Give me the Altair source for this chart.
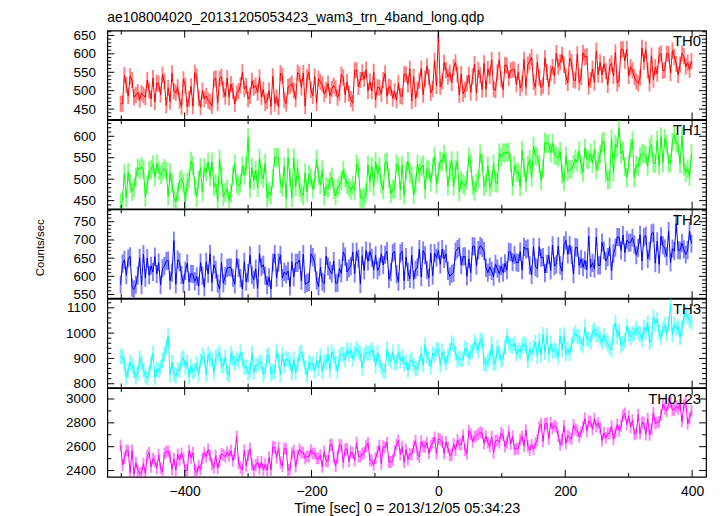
import altair as alt
import pandas as pd

# ---------------- data ----------------
T_START = -501          # first bin time [s]
T_STEP = 3              # bin width [s]

TH0 = [
464, 465, 542, 515, 485, 539, 529, 482, 488, 496, 476, 493, 488, 482, 529, 500, 478, 534, 469, 521,
519, 489, 543, 525, 460, 508, 470, 547, 499, 494, 509, 473, 457, 531, 514, 456, 478, 512, 458, 549,
538, 480, 455, 500, 477, 486, 473, 469, 458, 531, 534, 466, 532, 538, 503, 484, 534, 482, 518, 499,
464, 493, 499, 515, 550, 505, 513, 477, 486, 527, 508, 514, 495, 536, 483, 503, 466, 472, 500, 457,
539, 465, 482, 456, 548, 540, 476, 465, 510, 514, 519, 501, 477, 549, 544, 509, 548, 458, 536, 551,
502, 486, 539, 467, 533, 524, 517, 491, 502, 519, 486, 505, 514, 506, 481, 495, 544, 536, 489, 523,
492, 477, 466, 555, 556, 510, 529, 550, 531, 557, 499, 525, 499, 551, 475, 510, 508, 491, 529, 547,
485, 511, 508, 479, 498, 474, 521, 486, 484, 545, 544, 517, 559, 472, 538, 478, 503, 527, 560, 489,
533, 566, 537, 494, 505, 581, 513, 655, 510, 525, 576, 556, 538, 549, 521, 563, 577, 544, 488, 545,
491, 503, 520, 543, 495, 538, 572, 494, 556, 542, 503, 574, 504, 559, 541, 584, 505, 501, 550, 584,
531, 503, 570, 568, 534, 555, 557, 557, 517, 551, 507, 519, 584, 509, 571, 579, 591, 524, 509, 577,
534, 508, 514, 588, 551, 510, 547, 565, 540, 602, 565, 577, 598, 570, 538, 521, 588, 578, 530, 527,
599, 522, 537, 603, 591, 593, 511, 529, 559, 522, 608, 543, 577, 543, 572, 554, 516, 566, 574, 540,
604, 520, 531, 612, 612, 581, 613, 540, 565, 555, 537, 525, 520, 535, 616, 578, 612, 555, 520, 595,
530, 564, 546, 596, 601, 554, 556, 601, 600, 548, 609, 592, 573, 543, 571, 601, 594, 565, 576, 557,
580]

TH1 = [
445, 450, 513, 457, 516, 490, 471, 480, 505, 527, 522, 530, 522, 458, 487, 520, 522, 534, 505, 536,
520, 510, 518, 525, 519, 461, 515, 491, 456, 448, 469, 496, 500, 490, 448, 493, 501, 542, 532, 484,
458, 498, 527, 470, 527, 516, 540, 506, 540, 483, 490, 449, 547, 504, 459, 469, 477, 450, 467, 508,
536, 490, 484, 491, 531, 509, 531, 596, 479, 527, 497, 521, 480, 549, 510, 501, 537, 457, 471, 463,
501, 551, 551, 550, 489, 481, 530, 456, 551, 503, 457, 549, 483, 525, 480, 468, 461, 515, 470, 511,
503, 477, 498, 547, 508, 487, 522, 461, 483, 479, 495, 505, 476, 461, 478, 486, 497, 521, 503, 488,
481, 474, 486, 473, 536, 526, 456, 455, 458, 468, 533, 493, 530, 483, 541, 513, 530, 488, 475, 538,
541, 502, 466, 477, 477, 536, 529, 474, 533, 463, 519, 542, 513, 509, 464, 488, 535, 514, 528, 533,
476, 524, 521, 493, 528, 553, 488, 518, 543, 540, 558, 540, 484, 522, 543, 483, 522, 543, 470, 497,
489, 484, 498, 552, 538, 485, 472, 491, 499, 559, 538, 483, 491, 531, 481, 493, 536, 492, 491, 561,
551, 562, 561, 562, 564, 539, 484, 532, 515, 516, 482, 567, 527, 493, 532, 546, 504, 577, 555, 552,
535, 497, 524, 587, 583, 583, 562, 584, 557, 555, 550, 565, 512, 495, 554, 518, 523, 523, 535, 547,
540, 566, 533, 516, 573, 547, 546, 561, 537, 569, 522, 541, 558, 586, 588, 515, 498, 500, 594, 516,
581, 574, 620, 559, 566, 529, 504, 535, 572, 590, 503, 534, 529, 552, 560, 559, 556, 530, 573, 581,
537, 537, 591, 532, 599, 539, 595, 581, 537, 538, 587, 603, 585, 580, 536, 600, 530, 515, 524, 506,
560]

TH2 = [
577, 635, 645, 603, 649, 655, 569, 564, 577, 602, 651, 576, 661, 596, 650, 603, 629, 612, 654, 606,
638, 576, 622, 628, 642, 644, 588, 610, 698, 578, 646, 639, 603, 580, 615, 636, 585, 607, 606, 586,
600, 573, 638, 602, 570, 640, 607, 662, 583, 632, 618, 580, 565, 639, 581, 601, 623, 625, 624, 596,
578, 649, 623, 595, 565, 640, 585, 609, 658, 603, 591, 621, 567, 662, 625, 632, 602, 576, 597, 565,
638, 661, 596, 638, 659, 595, 612, 605, 615, 572, 640, 598, 637, 637, 645, 588, 661, 578, 582, 584,
662, 653, 638, 589, 572, 625, 585, 580, 656, 627, 616, 607, 642, 581, 582, 622, 608, 667, 654, 612,
622, 628, 667, 608, 668, 649, 579, 657, 616, 671, 641, 668, 651, 618, 658, 616, 626, 662, 631, 659,
669, 592, 612, 664, 668, 606, 585, 663, 669, 588, 653, 612, 593, 658, 591, 618, 625, 675, 598, 671,
658, 617, 596, 664, 602, 664, 651, 671, 633, 675, 648, 662, 615, 600, 607, 610, 668, 675, 680, 631,
654, 655, 600, 648, 610, 683, 682, 629, 672, 684, 678, 669, 623, 610, 626, 615, 599, 634, 621, 607,
628, 610, 636, 617, 668, 666, 639, 659, 638, 637, 668, 617, 681, 674, 677, 630, 604, 681, 626, 621,
681, 651, 653, 609, 634, 658, 616, 685, 628, 633, 683, 630, 614, 686, 699, 660, 686, 658, 606, 680,
679, 629, 648, 625, 644, 618, 710, 623, 637, 621, 708, 630, 630, 693, 671, 642, 653, 681, 615, 663,
679, 708, 708, 671, 713, 665, 700, 692, 693, 706, 687, 658, 678, 714, 642, 707, 712, 648, 669, 718,
720, 636, 696, 633, 710, 685, 677, 655, 724, 638, 676, 669, 745, 672, 671, 691, 674, 660, 672, 724,
690]

TH3 = [
906, 909, 878, 824, 855, 884, 870, 849, 826, 841, 900, 884, 854, 831, 822, 843, 882, 921, 824, 857,
852, 865, 891, 916, 948, 988, 836, 885, 836, 831, 856, 853, 895, 903, 865, 886, 827, 868, 847, 853,
880, 837, 889, 911, 897, 836, 916, 898, 898, 844, 904, 911, 924, 870, 871, 906, 842, 833, 920, 899,
880, 898, 889, 925, 896, 865, 866, 842, 855, 920, 845, 873, 872, 885, 886, 836, 850, 909, 912, 839,
847, 848, 928, 891, 836, 917, 869, 899, 895, 882, 842, 897, 845, 876, 918, 925, 900, 865, 833, 884,
879, 880, 851, 894, 861, 911, 847, 888, 886, 918, 854, 926, 910, 880, 847, 907, 918, 916, 894, 934,
916, 932, 898, 921, 939, 925, 918, 862, 911, 924, 918, 924, 935, 918, 869, 923, 891, 866, 852, 848,
938, 900, 888, 925, 884, 882, 926, 891, 907, 877, 885, 851, 888, 896, 873, 859, 862, 879, 920, 874,
954, 910, 898, 867, 920, 912, 935, 934, 874, 926, 903, 883, 911, 932, 961, 955, 920, 893, 903, 894,
897, 941, 934, 902, 925, 930, 967, 950, 932, 974, 970, 880, 876, 890, 902, 957, 881, 880, 946, 922,
891, 899, 945, 989, 961, 950, 949, 960, 917, 935, 924, 949, 958, 952, 891, 937, 918, 941, 964, 908,
969, 913, 994, 924, 991, 914, 960, 928, 934, 928, 909, 989, 935, 992, 919, 937, 919, 955, 988, 1002,
987, 985, 961, 952, 1024, 977, 976, 965, 1004, 1014, 993, 997, 978, 964, 990, 971, 958, 943, 933, 1007,
1041, 985, 1007, 951, 960, 970, 1028, 997, 984, 995, 999, 1019, 1002, 995, 973, 1022, 1004, 1041, 962, 974,
1063, 1035, 1055, 1002, 983, 1017, 1033, 998, 1037, 1112, 993, 1034, 1017, 1026, 983, 1020, 1064, 1078, 1064, 1051,
1040]

TH0123 = [
2610, 2446, 2506, 2568, 2564, 2382, 2568, 2370, 2466, 2400, 2376, 2380, 2458, 2374, 2524, 2550, 2432, 2498, 2478, 2418,
2531, 2421, 2387, 2543, 2559, 2561, 2513, 2411, 2499, 2405, 2535, 2489, 2543, 2501, 2397, 2405, 2567, 2507, 2549, 2401,
2382, 2440, 2410, 2502, 2550, 2516, 2576, 2524, 2454, 2426, 2526, 2420, 2480, 2540, 2530, 2516, 2554, 2524, 2566, 2484,
2543, 2684, 2463, 2425, 2405, 2569, 2441, 2527, 2583, 2451, 2405, 2445, 2471, 2415, 2471, 2407, 2451, 2405, 2511, 2407,
2599, 2593, 2507, 2591, 2465, 2437, 2585, 2581, 2405, 2411, 2545, 2567, 2433, 2527, 2577, 2555, 2549, 2501, 2519, 2517,
2570, 2544, 2542, 2502, 2502, 2528, 2432, 2560, 2480, 2478, 2612, 2618, 2510, 2438, 2518, 2616, 2610, 2468, 2576, 2582,
2477, 2555, 2547, 2485, 2633, 2519, 2517, 2541, 2549, 2605, 2631, 2491, 2483, 2449, 2505, 2555, 2609, 2457, 2603, 2593,
2634, 2472, 2472, 2486, 2562, 2618, 2654, 2534, 2600, 2472, 2576, 2494, 2538, 2534, 2602, 2650, 2536, 2514, 2646, 2602,
2600, 2634, 2544, 2608, 2632, 2678, 2542, 2666, 2658, 2642, 2544, 2640, 2594, 2526, 2532, 2620, 2572, 2656, 2622, 2616,
2695, 2573, 2543, 2733, 2707, 2641, 2681, 2693, 2705, 2721, 2713, 2627, 2687, 2635, 2603, 2685, 2547, 2649, 2655, 2635,
2715, 2697, 2601, 2633, 2727, 2623, 2687, 2577, 2585, 2583, 2659, 2685, 2607, 2739, 2603, 2571, 2615, 2581, 2627, 2655,
2764, 2790, 2646, 2790, 2796, 2664, 2798, 2754, 2778, 2764, 2690, 2616, 2656, 2774, 2628, 2692, 2676, 2664, 2782, 2746,
2734, 2684, 2722, 2766, 2836, 2730, 2814, 2810, 2746, 2834, 2772, 2798, 2756, 2652, 2716, 2676, 2710, 2712, 2772, 2662,
2716, 2786, 2734, 2774, 2860, 2878, 2786, 2856, 2762, 2822, 2704, 2716, 2866, 2710, 2804, 2798, 2702, 2834, 2700, 2746,
2884, 2794, 2802, 2808, 2864, 2956, 2918, 2898, 2960, 2970, 2906, 2910, 2938, 2920, 2954, 2812, 2948, 2976, 2794, 2836,
2900]

SERIES = [TH0, TH1, TH2, TH3, TH0123]
NAMES = ["TH0", "TH1", "TH2", "TH3", "TH0123"]
COLORS = ["#ff0000", "#00ff00", "#0000ff", "#00ffff", "#ff00ff"]
ERRS = [22, 22, 25, 30, 50]                      # 1-sigma error per bin
Y_DOMAINS = [[422, 663], [431, 638], [540, 784], [785, 1136], [2347, 3091]]
Y_LABELS = [[450, 500, 550, 600, 650], [450, 500, 550, 600],
            [550, 600, 650, 700, 750], [800, 900, 1000, 1100],
            [2400, 2600, 2800, 3000]]
Y_MINOR_STEP = [10, 10, 10, 20, 100]
X_DOMAIN = [-522, 422]
X_LABELS = [-400, -200, 0, 200, 400]
X_MINOR = [-500, -300, -100, 100, 300]

TITLE = "ae108004020_20131205053423_wam3_trn_4band_long.qdp"
X_TITLE = "Time [sec] 0 = 2013/12/05 05:34:23"
Y_TITLE = "Counts/sec"

# ---------------- layout ----------------
FONT = "Liberation Sans"
W = 603
H = 89.4
MAJ = 7
MIN = 4

times = [T_START + T_STEP * i for i in range(len(TH0))]
xs = alt.Scale(domain=X_DOMAIN, nice=False, zero=False)


def panel(i):
    ys = alt.Scale(domain=Y_DOMAINS[i], nice=False, zero=False)
    df = pd.DataFrame({"t": times, "rate": SERIES[i]})
    df["lo"] = df["rate"] - ERRS[i]
    df["hi"] = df["rate"] + ERRS[i]
    color = COLORS[i]
    last = i == len(SERIES) - 1

    if last:
        xaxis = alt.Axis(values=X_LABELS, ticks=False, domain=False, grid=False,
                         labelFontSize=14, labelPadding=8, labelFlush=False,
                         format="d", title=X_TITLE, titleFontSize=14.5,
                         titlePadding=3, titleFontWeight="normal")
    else:
        xaxis = alt.Axis(values=X_LABELS, ticks=False, domain=False, grid=False,
                         labels=False, title=None)

    yaxis = alt.Axis(values=Y_LABELS[i], ticks=False, domain=False, grid=False,
                     labelFontSize=13.5, labelPadding=12, labelFlush=False, format="d",
                     title=Y_TITLE if i == 2 else None, titleFontSize=11.5,
                     titlePadding=28, titleY=H / 2 - 6.5, titleFontWeight="normal")

    X = lambda f: alt.X(f, scale=xs, axis=xaxis)
    Y = lambda f: alt.Y(f, scale=ys, axis=yaxis)

    err = alt.Chart(df).mark_rule(color=color, opacity=0.5, strokeWidth=1.9, clip=True).encode(
        x=X("t:Q"), y=Y("lo:Q"), y2="hi:Q")
    line = alt.Chart(df).mark_line(color=color, strokeWidth=1, clip=True).encode(
        x=X("t:Q"), y=Y("rate:Q"))

    layers = [err, line]

    # x ticks (top & bottom, pointing inward)
    for vals, ln in ((X_LABELS, MAJ), (X_MINOR, MIN)):
        tdf = pd.DataFrame({"t": vals})
        for y0, y1 in ((0, ln), (H, H - ln)):
            layers.append(alt.Chart(tdf).mark_rule(color="black", strokeWidth=1).encode(
                x=X("t:Q"), y=alt.value(y0), y2=alt.value(y1)))

    # y ticks (left & right, pointing inward)
    lo, hi = Y_DOMAINS[i]
    step = Y_MINOR_STEP[i]
    minor = [v for v in range((lo // step + 1) * step, hi + 1, step) if v not in Y_LABELS[i]]
    for vals, ln in ((Y_LABELS[i], MAJ), (minor, MIN)):
        tdf = pd.DataFrame({"rate": vals})
        for x0, x1 in ((0, ln), (W, W - ln)):
            layers.append(alt.Chart(tdf).mark_rule(color="black", strokeWidth=1).encode(
                y=Y("rate:Q"), x=alt.value(x0), x2=alt.value(x1)))

    label = alt.Chart(pd.DataFrame({"name": [NAMES[i]]})).mark_text(
        align="right", baseline="alphabetic", fontSize=15, font=FONT, color="black"
    ).encode(text="name:N", x=alt.value(W - 5), y=alt.value(15.5))
    layers.append(label)

    ch = alt.layer(*layers).properties(width=W, height=H)
    if i == 0:
        ch = ch.properties(title=alt.TitleParams(
            text=TITLE, anchor="start", frame="group", fontSize=14, font=FONT,
            fontWeight="normal", color="black", offset=4))
    return ch


chart = alt.vconcat(*[panel(i) for i in range(len(SERIES))], spacing=0,
                    bounds="flush").properties(
    padding={"left": 25, "top": 0, "right": 5, "bottom": 0},
    background="white",
).configure_view(
    stroke="black", strokeWidth=1.2
).configure_axis(
    labelFont=FONT, titleFont=FONT, labelColor="black", titleColor="black"
).configure_title(font=FONT)

chart.save("out.html", embed_options={"renderer": "svg", "actions": False})
